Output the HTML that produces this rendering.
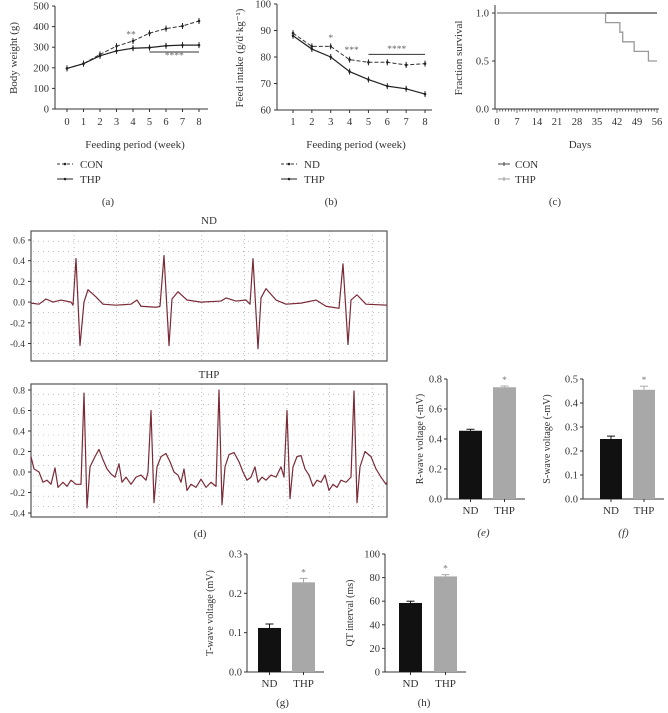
<!DOCTYPE html>
<html><head><meta charset="utf-8"><style>
html,body{margin:0;padding:0;background:#fff;}
svg{display:block;font-family:"Liberation Serif",serif;}
</style></head><body>
<svg id="fig" width="668" height="713" viewBox="0 0 668 713" xmlns="http://www.w3.org/2000/svg"></svg>
<script>
// ---------- data ----------
const weeksA=[0,1,2,3,4,5,6,7,8];
const conA=[197,220,265,305,330,368,390,403,427];
const thpA=[197,220,258,282,295,298,307,310,310];
const weightTicks=[0,100,200,300,400,500];
const weeksB=[1,2,3,4,5,6,7,8];
const ndB=[89,84,84,79,78,78,77,77.5];
const thpB=[88,83,80,74.5,71.5,69,68,66];
const intakeTicks=[60,70,80,90,100];
const conDays=[0,56];
const conSurv=[1,1];
const thpDays=[0,38,43,44,48,53,56];
const thpSurv=[1,0.9,0.8,0.7,0.6,0.5,0.5];
const survTicks=[0,0.5,1.0];
const dayTicks=[0,7,14,21,28,35,42,49,56];
const ndT=[0,8,15,22,30,40,42,45,49,53,57,65,72,85,100,106,110,125,129,133,138,141,147,156,170,190,195,205,215,219,222,227,230,235,245,255,270,285,295,308,312,317,320,326,335,356];
const ndV=[-0.01,-0.02,0.03,0,0.02,0.0,-0.03,0.42,-0.42,0,0.12,0.05,-0.02,-0.03,-0.02,0.02,-0.04,-0.05,-0.04,0.45,-0.42,0.03,0.1,0.02,0,0.01,0.04,0.01,0.02,-0.02,0.42,-0.45,0.04,0.13,0.02,-0.02,-0.01,0.02,-0.04,-0.06,0.37,-0.41,0.02,0.07,-0.02,-0.03];
const thpT=[0,3,8,12,16,20,24,27,32,36,40,45,50,53,56,59,64,68,72,76,80,84,88,91,95,100,105,110,115,117,120,123,126,130,135,139,143,147,150,153,156,160,165,170,175,180,185,188,191,194,198,203,208,212,216,220,224,227,231,235,240,245,250,253,256,259,262,266,270,274,278,282,286,290,294,298,302,306,310,315,320,323,326,329,334,340,345,350,355,356];
const thpV=[0.15,0.03,0,-0.1,-0.08,-0.12,0.04,-0.15,-0.1,-0.14,-0.08,-0.12,-0.12,0.77,-0.35,0.05,0.15,0.22,0.12,0.03,-0.02,-0.05,0.08,-0.1,-0.05,-0.12,-0.05,-0.03,-0.08,0.0,0.6,-0.3,0.05,0.15,0.18,0.1,0.0,-0.03,-0.1,0.03,-0.18,-0.12,-0.15,-0.07,-0.15,-0.1,-0.14,0.8,-0.32,0.05,0.17,0.19,0.1,0.0,-0.08,-0.05,0.05,-0.1,-0.05,-0.08,-0.03,-0.05,0.05,-0.05,0.6,-0.26,0.05,0.15,0.16,0.03,-0.03,-0.14,-0.08,-0.1,-0.03,-0.18,-0.12,-0.15,-0.08,-0.1,-0.05,0.79,-0.3,0.05,0.2,0.15,0.03,-0.05,-0.12,-0.1];
const ndTicks=[0.6,0.4,0.2,0.0,-0.2,-0.4];
const thpTicks=[0.8,0.6,0.4,0.2,0.0,-0.2,-0.4];
const barGroups=["ND","THP"];
const rWave=[0.455,0.745]; const rErr=[0.01,0.008]; const rTicks=[0,0.2,0.4,0.6,0.8];
const sWave=[0.25,0.455]; const sErr=[0.012,0.015]; const sTicks=[0,0.1,0.2,0.3,0.4,0.5];
const tWave=[0.112,0.228]; const tErr=[0.01,0.01]; const tTicks=[0,0.1,0.2,0.3];
const qtInt=[58.5,81]; const qtErr=[1.5,1.5]; const qtTicks=[0,20,40,60,80,100];

// ---------- helpers ----------
const NS="http://www.w3.org/2000/svg";
const svg=document.getElementById('fig');
function mk(tag,attrs,parent){const e=document.createElementNS(NS,tag);for(const k in attrs)e.setAttribute(k,attrs[k]);(parent||svg).appendChild(e);return e;}
function txt(x,y,s,size,anchor,parent,extra){const t=mk('text',Object.assign({x:x,y:y,'font-size':size,'text-anchor':anchor||'middle',fill:'#333'},extra||{}),parent);t.textContent=s;return t;}
function grp(name){const g=mk('g',{});return g;}
function fmt(v,d){return v.toFixed(d);}
const TK=10.5, TT=11;

// ---------- panel a ----------
(function(){
 const g=grp('panel-a-body-weight');
 const ax=w=>67+w*16.5, ay=v=>109-v*103/500;
 mk('line',{x1:55,y1:ay(500),x2:55,y2:109,stroke:'#333','stroke-width':1},g);
 mk('line',{x1:55,y1:109,x2:208,y2:109,stroke:'#333','stroke-width':1},g);
 weightTicks.forEach(v=>{mk('line',{x1:52,y1:ay(v),x2:55,y2:ay(v),stroke:'#333'},g);const t=txt(49,ay(v)+3.5,String(v),TK,'end',g);});
 weeksA.forEach(w=>{mk('line',{x1:ax(w),y1:109,x2:ax(w),y2:112,stroke:'#333'},g);const t=txt(ax(w),125,String(w),TK,'middle',g);});
 const pc=mk('polyline',{points:weeksA.map((w,i)=>ax(w)+','+ay(conA[i])).join(' '),fill:'none',stroke:'#333','stroke-width':1,'stroke-dasharray':'4,2'},g);
 
 const pt=mk('polyline',{points:weeksA.map((w,i)=>ax(w)+','+ay(thpA[i])).join(' '),fill:'none',stroke:'#222','stroke-width':1.2},g);
 
 [conA,thpA].forEach(arr=>weeksA.forEach((w,i)=>{mk('line',{x1:ax(w),y1:ay(arr[i])-3,x2:ax(w),y2:ay(arr[i])+3,stroke:'#222'},g);mk('circle',{cx:ax(w),cy:ay(arr[i]),r:1.3,fill:'#222'},g);}));
 txt(ax(4)-2,ay(348),'**',9.5,'middle',g,{fill:'#666'});
 mk('line',{x1:ax(5),y1:ay(277),x2:ax(8),y2:ay(277),stroke:'#333'},g);
 txt(ax(6.5),ay(245),'****',9.5,'middle',g,{fill:'#666'});
 const xt=txt(135,148,'Feeding period (week)',TT,'middle',g);
 const yt=txt(0,0,'Body weight (g)',TT,'middle',g,{transform:'translate(17,58) rotate(-90)'});
 const l1=mk('g',{},g);
 mk('line',{x1:57,y1:164,x2:73,y2:164,stroke:'#333','stroke-dasharray':'3,2'},l1);mk('circle',{cx:65,cy:164,r:1.3,fill:'#222'},l1);txt(80,168,'CON',TT,'start',l1);
 const l2=mk('g',{},g);
 mk('line',{x1:57,y1:179,x2:73,y2:179,stroke:'#222'},l2);mk('circle',{cx:65,cy:179,r:1.3,fill:'#222'},l2);txt(80,183,'THP',TT,'start',l2);
 const lb=txt(108,205,'(a)',TT,'middle',g);
})();

// ---------- panel b ----------
(function(){
 const g=grp('panel-b-feed-intake');
 const bx=w=>293+(w-1)*18.86, by=v=>110-(v-60)*2.65;
 mk('line',{x1:277,y1:by(100),x2:277,y2:110,stroke:'#333'},g);
 mk('line',{x1:277,y1:110,x2:432,y2:110,stroke:'#333'},g);
 intakeTicks.forEach(v=>{mk('line',{x1:274,y1:by(v),x2:277,y2:by(v),stroke:'#333'},g);const t=txt(271,by(v)+3.5,String(v),TK,'end',g);});
 weeksB.forEach(w=>{mk('line',{x1:bx(w),y1:110,x2:bx(w),y2:113,stroke:'#333'},g);const t=txt(bx(w),125,String(w),TK,'middle',g);});
 const pn=mk('polyline',{points:weeksB.map((w,i)=>bx(w)+','+by(ndB[i])).join(' '),fill:'none',stroke:'#333','stroke-dasharray':'4,2'},g);
 
 const pt=mk('polyline',{points:weeksB.map((w,i)=>bx(w)+','+by(thpB[i])).join(' '),fill:'none',stroke:'#222','stroke-width':1.2},g);
 
 [ndB,thpB].forEach(arr=>weeksB.forEach((w,i)=>{mk('line',{x1:bx(w),y1:by(arr[i])-3,x2:bx(w),y2:by(arr[i])+3,stroke:'#222'},g);mk('circle',{cx:bx(w),cy:by(arr[i]),r:1.3,fill:'#222'},g);}));
 txt(bx(3),by(86),'*',9.5,'middle',g,{fill:'#666'});
 txt(bx(4)+2,by(81.5),'***',9.5,'middle',g,{fill:'#666'});
 mk('line',{x1:bx(5),y1:by(81),x2:bx(8),y2:by(81),stroke:'#333'},g);
 txt(bx(6.5),by(81.8),'****',9.5,'middle',g,{fill:'#666'});
 const xt=txt(356,148,'Feeding period (week)',TT,'middle',g);
 const yt=txt(0,0,'Feed intake (g/d·kg⁻¹)',TT,'middle',g,{transform:'translate(243,58) rotate(-90)'});
 const l1=mk('g',{},g);
 mk('line',{x1:281,y1:164,x2:297,y2:164,stroke:'#333','stroke-dasharray':'3,2'},l1);mk('circle',{cx:289,cy:164,r:1.3,fill:'#222'},l1);txt(304,168,'ND',TT,'start',l1);
 const l2=mk('g',{},g);
 mk('line',{x1:281,y1:179,x2:297,y2:179,stroke:'#222'},l2);mk('circle',{cx:289,cy:179,r:1.3,fill:'#222'},l2);txt(304,183,'THP',TT,'start',l2);
 const lb=txt(331,205,'(b)',TT,'middle',g);
})();

// ---------- panel c ----------
(function(){
 const g=grp('panel-c-survival');
 const cx=d=>497+d*160/56, cy=f=>109-f*96;
 mk('line',{x1:495,y1:5,x2:495,y2:109,stroke:'#333'},g);
 mk('line',{x1:495,y1:109,x2:659,y2:109,stroke:'#333'},g);
 survTicks.forEach(v=>{mk('line',{x1:492,y1:cy(v),x2:495,y2:cy(v),stroke:'#333'},g);const t=txt(489,cy(v)+3.5,fmt(v,1),TK,'end',g);});
 for(let d=0;d<=56;d++){mk('line',{x1:cx(d),y1:109,x2:cx(d),y2:d%7===0?113:111.5,stroke:'#333','stroke-width':0.7},g);}
 dayTicks.forEach(d=>{const t=txt(cx(d),125,String(d),TK,'middle',g);});
 function step(days,vals){let p=cx(days[0])+','+cy(vals[0]);for(let i=1;i<days.length;i++){p+=' '+cx(days[i])+','+cy(vals[i-1])+' '+cx(days[i])+','+cy(vals[i]);}return p;}
 const lc=mk('polyline',{points:step(conDays,conSurv),fill:'none',stroke:'#444','stroke-width':1.3},g);
 
 const lt=mk('polyline',{points:step(thpDays,thpSurv),fill:'none',stroke:'#999','stroke-width':1.3},g);
 
 const xt=txt(580,148,'Days',TT,'middle',g);
 const yt=txt(0,0,'Fraction survival',TT,'middle',g,{transform:'translate(462,58) rotate(-90)'});
 const l1=mk('g',{},g);
 mk('line',{x1:498,y1:164,x2:510,y2:164,stroke:'#444'},l1);mk('line',{x1:504,y1:162,x2:504,y2:166,stroke:'#444'},l1);txt(515,168,'CON',TT,'start',l1);
 const l2=mk('g',{},g);
 mk('line',{x1:498,y1:179,x2:510,y2:179,stroke:'#999'},l2);mk('line',{x1:504,y1:177,x2:504,y2:181,stroke:'#999'},l2);txt(515,183,'THP',TT,'start',l2);
 const lb=txt(555,205,'(c)',TT,'middle',g);
})();

// ---------- panel d: ECG ----------
function ecg(name,title,titleY,top,bot,yTop,vTop,pxPer,ticks,T,V){
 const g=grp(name);
 const ex=i=>31+i, ey=v=>yTop+(vTop-v)*pxPer;
 const tt=txt(209,titleY,title,TT,'middle',g);
 const gridG=mk('g',{},g);
 for(let x=74;x<387;x+=42.6){mk('line',{x1:x,y1:top,x2:x,y2:bot,stroke:'#999','stroke-width':0.6,'stroke-dasharray':'1,3'},gridG);}
 for(let k=1;k<13;k++){const y=top+k*10.2;if(y<bot-1)mk('line',{x1:33,y1:y,x2:386,y2:y,stroke:'#999','stroke-width':0.6,'stroke-dasharray':'1,4'},gridG);}
 mk('rect',{x:31,y:top,width:356,height:bot-top,fill:'none',stroke:'#555','stroke-width':1.2},g);
 ticks.forEach(v=>{mk('line',{x1:28,y1:ey(v),x2:31,y2:ey(v),stroke:'#333'},g);const t=txt(25,ey(v)+3.5,fmt(v,1),9.5,'end',g);});
 const tr=mk('polyline',{points:T.map((t,i)=>ex(t)+','+ey(V[i])).join(' '),fill:'none',stroke:'#7a2a36','stroke-width':1.2,'stroke-linejoin':'round'},g);
 
}
ecg('panel-d-ecg-nd','ND',224,231,361,240,0.6,103.5,ndTicks,ndT,ndV);
ecg('panel-d-ecg-thp','THP',378,384,517,390,0.8,102.5,thpTicks,thpT,thpV);
(function(){const lb=txt(200,537,'(d)',TT,'middle');})();

// ---------- bar panels ----------
function bars(name,axX,y0,yTop,vmax,ticks,dec,bx,bw,vals,errs,ytitle,titleX,labY,label){
 const g=grp(name);
 const sy=v=>y0-(v/vmax)*(y0-yTop);
 const axEnd=bx[1]+bw+9;
 mk('line',{x1:axX,y1:yTop,x2:axX,y2:y0,stroke:'#333'},g);
 mk('line',{x1:axX,y1:y0,x2:axEnd,y2:y0,stroke:'#333'},g);
 ticks.forEach(v=>{mk('line',{x1:axX-3,y1:sy(v),x2:axX,y2:sy(v),stroke:'#333'},g);const t=txt(axX-5,sy(v)+3.5,fmt(v,dec),TK,'end',g);});
 const cols=['#111','#a8a8a8'];
 vals.forEach((v,i)=>{
  const r=mk('rect',{x:bx[i],y:sy(v),width:bw,height:y0-sy(v),fill:cols[i]},g);
  
  const c=bx[i]+bw/2;
  mk('line',{x1:c,y1:sy(v+errs[i]),x2:c,y2:sy(v),stroke:cols[i]},g);
  mk('line',{x1:c-4,y1:sy(v+errs[i]),x2:c+4,y2:sy(v+errs[i]),stroke:cols[i]},g);
  mk('line',{x1:c,y1:y0,x2:c,y2:y0+3,stroke:'#333'},g);
  const t=txt(c,y0+15,barGroups[i],TT,'middle',g);
 });
 txt(bx[1]+bw/2,sy(vals[1]+errs[1])-3,'*',9.5,'middle',g,{fill:'#777'});
 const yt=txt(0,0,ytitle,10,'middle',g,{transform:'translate('+titleX+','+((y0+yTop)/2)+') rotate(-90)'});
 const lb=txt((bx[0]+bx[1]+bw)/2-4,labY,label,TT,'middle',g,{'font-style':label==='(e)'||label==='(f)'?'italic':'normal'});
}
bars('panel-e-r-wave',447,499,379,0.8,rTicks,1,[459,493],23,rWave,rErr,'R-wave voltage (-mV)',423,536,'(e)');
bars('panel-f-s-wave',583,499,379,0.5,sTicks,1,[600,633],22,sWave,sErr,'S-wave voltage (-mV)',550,536,'(f)');
bars('panel-g-t-wave',247,672,554,0.3,tTicks,1,[258,292],23,tWave,tErr,'T-wave voltage (mV)',213,706,'(g)');
bars('panel-h-qt',385,672,554,100,qtTicks,0,[399,434],23,qtInt,qtErr,'QT interval (ms)',353,706,'(h)');
</script>
</body></html>
